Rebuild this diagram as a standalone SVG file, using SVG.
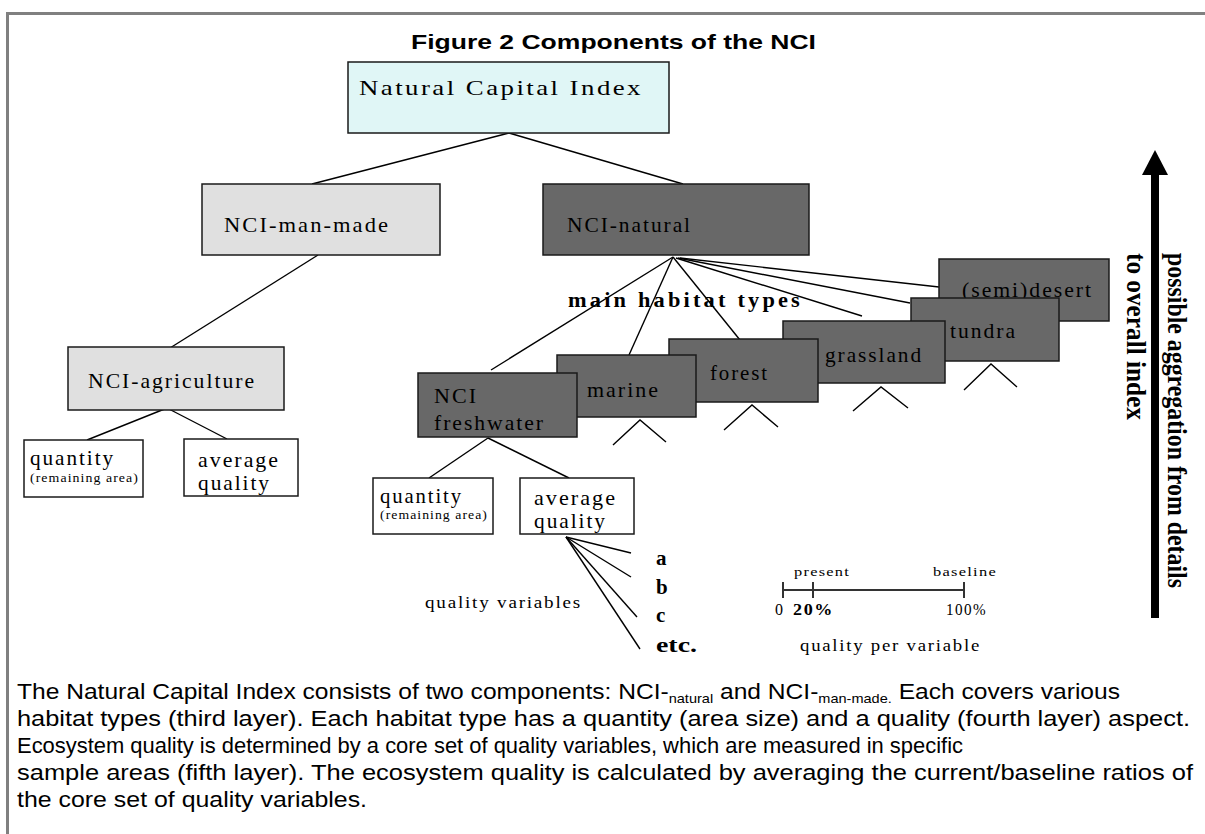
<svg xmlns="http://www.w3.org/2000/svg" width="1205" height="834" viewBox="0 0 1205 834">
<defs>
<style>
.frame{stroke:#808080;stroke-width:3;fill:none}
.box{stroke:#1a1a1a;stroke-width:1.5}
.dark{fill:#686868}
.light{fill:#e0e0e0}
.white{fill:#ffffff}
.cyan{fill:#e0f6f6}
.lbl{font-family:"Liberation Serif","Times New Roman",serif;font-size:22px;fill:#000;letter-spacing:2px}
.sm{font-family:"Liberation Serif","Times New Roman",serif;font-size:13px;fill:#000;letter-spacing:1px}
.mid{font-family:"Liberation Serif","Times New Roman",serif;font-size:16px;fill:#000;letter-spacing:1.5px}
.bs{font-family:"Liberation Serif","Times New Roman",serif;font-weight:bold;fill:#000}
.conn line,.conn polyline{stroke:#000;stroke-width:1.4;fill:none}
.body{font-family:"Liberation Sans",Arial,sans-serif;font-size:22px;fill:#000}
.title{font-family:"Liberation Sans",Arial,sans-serif;font-size:21px;font-weight:bold;fill:#000}
</style>
</defs>
<rect width="1205" height="834" fill="#ffffff"/>
<g id="frame">
<line class="frame" x1="6" y1="13.5" x2="1205" y2="13.5"/>
<line class="frame" x1="7.5" y1="12" x2="7.5" y2="834"/>
</g>
<text id="title" class="title" x="411" y="49" textLength="405" lengthAdjust="spacingAndGlyphs">Figure 2 Components of the NCI</text>

<g id="connectors" class="conn">
<line x1="509" y1="133" x2="312" y2="184"/>
<line x1="509" y1="133" x2="683" y2="184"/>
<line x1="318" y1="255" x2="170" y2="348"/>
<line x1="167" y1="408" x2="87" y2="440"/>
<line x1="167" y1="408" x2="227" y2="439"/>
<line x1="673" y1="257" x2="491" y2="370"/>
<line x1="673" y1="257" x2="629" y2="355"/>
<line x1="673" y1="257" x2="740" y2="340"/>
<line x1="676" y1="258" x2="862" y2="316"/>
<line x1="678" y1="258" x2="910" y2="303"/>
<line x1="680" y1="258" x2="939" y2="287"/>
<line x1="488" y1="438" x2="429" y2="478"/>
<line x1="488" y1="438" x2="569" y2="478"/>
<line x1="566" y1="537" x2="631" y2="553"/>
<line x1="566" y1="537" x2="631" y2="577"/>
<line x1="566" y1="537" x2="637" y2="617"/>
<line x1="566" y1="537" x2="640" y2="649"/>
<polyline points="613,445 640,420 666,442"/>
<polyline points="724,430 752,405 778,427"/>
<polyline points="853,411 881,387 908,408"/>
<polyline points="964,390 991,364 1017,387"/>
</g>

<g id="nci">
<rect class="box cyan" x="348" y="62" width="321" height="71"/>
<text class="lbl" x="359" y="95" font-size="23" textLength="284" lengthAdjust="spacingAndGlyphs">Natural Capital Index</text>
</g>
<g id="nci-man-made">
<rect class="box light" x="202" y="184" width="238" height="71"/>
<text class="lbl" x="224" y="232" textLength="166" lengthAdjust="spacingAndGlyphs">NCI-man-made</text>
</g>
<g id="nci-natural">
<rect class="box dark" x="543" y="184" width="266" height="71"/>
<text class="lbl" x="567" y="232" textLength="125" lengthAdjust="spacingAndGlyphs">NCI-natural</text>
</g>
<g id="nci-agriculture">
<rect class="box light" x="68" y="347" width="216" height="63"/>
<text class="lbl" x="88" y="388" textLength="168" lengthAdjust="spacingAndGlyphs">NCI-agriculture</text>
</g>
<g id="agri-quantity">
<rect class="box white" x="24" y="440" width="119" height="57"/>
<text class="lbl" x="30" y="465" font-size="21" textLength="85" lengthAdjust="spacingAndGlyphs">quantity</text>
<text class="sm" x="30" y="482" textLength="109" lengthAdjust="spacingAndGlyphs">(remaining area)</text>
</g>
<g id="agri-quality">
<rect class="box white" x="184" y="439" width="114" height="57"/>
<text class="lbl" x="198" y="467" font-size="21" textLength="82" lengthAdjust="spacingAndGlyphs">average</text>
<text class="lbl" x="198" y="490" font-size="21" textLength="73" lengthAdjust="spacingAndGlyphs">quality</text>
</g>

<text id="main-habitat-types" class="bs" x="568" y="307" font-size="21" letter-spacing="3" textLength="235" lengthAdjust="spacingAndGlyphs">main habitat types</text>

<g id="desert">
<rect class="box dark" x="939" y="259" width="170" height="62"/>
<text class="lbl" x="962" y="297" textLength="131" lengthAdjust="spacingAndGlyphs">(semi)desert</text>
</g>
<g id="tundra">
<rect class="box dark" x="911" y="298" width="148" height="63"/>
<text class="lbl" x="950" y="338" textLength="67" lengthAdjust="spacingAndGlyphs">tundra</text>
</g>
<g id="grassland">
<rect class="box dark" x="783" y="321" width="162" height="62"/>
<text class="lbl" x="825" y="362" textLength="98" lengthAdjust="spacingAndGlyphs">grassland</text>
</g>
<g id="forest">
<rect class="box dark" x="669" y="339" width="149" height="63"/>
<text class="lbl" x="710" y="380" textLength="59" lengthAdjust="spacingAndGlyphs">forest</text>
</g>
<g id="marine">
<rect class="box dark" x="557" y="355" width="139" height="62"/>
<text class="lbl" x="587" y="397" textLength="73" lengthAdjust="spacingAndGlyphs">marine</text>
</g>
<g id="freshwater">
<rect class="box dark" x="418" y="373" width="159" height="64"/>
<text class="lbl" x="434" y="403" textLength="44" lengthAdjust="spacingAndGlyphs">NCI</text>
<text class="lbl" x="434" y="430" textLength="111" lengthAdjust="spacingAndGlyphs">freshwater</text>
</g>
<g id="fresh-quantity">
<rect class="box white" x="373" y="478" width="120" height="56"/>
<text class="lbl" x="380" y="503" font-size="21" textLength="83" lengthAdjust="spacingAndGlyphs">quantity</text>
<text class="sm" x="380" y="519" textLength="108" lengthAdjust="spacingAndGlyphs">(remaining area)</text>
</g>
<g id="fresh-quality">
<rect class="box white" x="520" y="478" width="114" height="56"/>
<text class="lbl" x="534" y="505" font-size="21" textLength="83" lengthAdjust="spacingAndGlyphs">average</text>
<text class="lbl" x="534" y="528" font-size="21" textLength="73" lengthAdjust="spacingAndGlyphs">quality</text>
</g>

<g id="variables">
<text class="bs" x="656" y="565" font-size="21">a</text>
<text class="bs" x="656" y="594" font-size="21">b</text>
<text class="bs" x="656" y="622" font-size="21">c</text>
<text class="bs" x="656" y="652" font-size="21" textLength="41" lengthAdjust="spacingAndGlyphs">etc.</text>
<text class="mid" x="425" y="608" textLength="157" lengthAdjust="spacingAndGlyphs">quality  variables</text>
</g>

<g id="scale">
<g stroke="#333" stroke-width="2">
<line x1="783" y1="590" x2="964" y2="590"/>
<line x1="783" y1="582" x2="783" y2="598"/>
<line x1="813" y1="582" x2="813" y2="598"/>
<line x1="964" y1="582" x2="964" y2="598"/>
</g>
<text class="sm" x="794" y="576" font-size="14" textLength="56" lengthAdjust="spacingAndGlyphs">present</text>
<text class="sm" x="933" y="576" font-size="14" textLength="64" lengthAdjust="spacingAndGlyphs">baseline</text>
<text class="mid" x="775" y="615">0</text>
<text class="bs" x="793" y="615" font-size="17" letter-spacing="1.5" textLength="41" lengthAdjust="spacingAndGlyphs">20%</text>
<text class="mid" x="946" y="615" textLength="41" lengthAdjust="spacingAndGlyphs">100%</text>
<text class="mid" x="800" y="651" textLength="181" lengthAdjust="spacingAndGlyphs">quality per variable</text>
</g>

<g id="aggregation-arrow">
<rect x="1151" y="172" width="8" height="446" fill="#000"/>
<polygon points="1155,150 1142,175 1168,175" fill="#000"/>
<text class="bs" font-size="23" transform="translate(1168,253) scale(1.145,1) rotate(90)" x="0" y="0" textLength="335" lengthAdjust="spacingAndGlyphs">possible aggregation from details</text>
<text class="bs" font-size="23" transform="translate(1127,253) scale(1.145,1) rotate(90)" x="0" y="0" textLength="167" lengthAdjust="spacingAndGlyphs">to overall index</text>
</g>

<g id="caption" class="body">
<text x="17" y="699" textLength="1103" lengthAdjust="spacingAndGlyphs">The Natural Capital Index consists of two components: NCI-<tspan font-size="13" dy="4">natural</tspan><tspan dy="-4"> and NCI-</tspan><tspan font-size="13" dy="4">man-made.</tspan><tspan dy="-4"> Each covers various</tspan></text>
<text x="17" y="726" textLength="1173" lengthAdjust="spacingAndGlyphs">habitat types (third layer). Each habitat type has a quantity (area size) and a quality (fourth layer) aspect.</text>
<text x="17" y="753" textLength="946" lengthAdjust="spacingAndGlyphs">Ecosystem quality is determined by a core set of quality variables, which are measured in specific</text>
<text x="17" y="780" textLength="1176" lengthAdjust="spacingAndGlyphs">sample areas (fifth layer). The ecosystem quality is calculated by averaging the current/baseline ratios of</text>
<text x="17" y="807" textLength="350" lengthAdjust="spacingAndGlyphs">the core set of quality variables.</text>
</g>
</svg>
